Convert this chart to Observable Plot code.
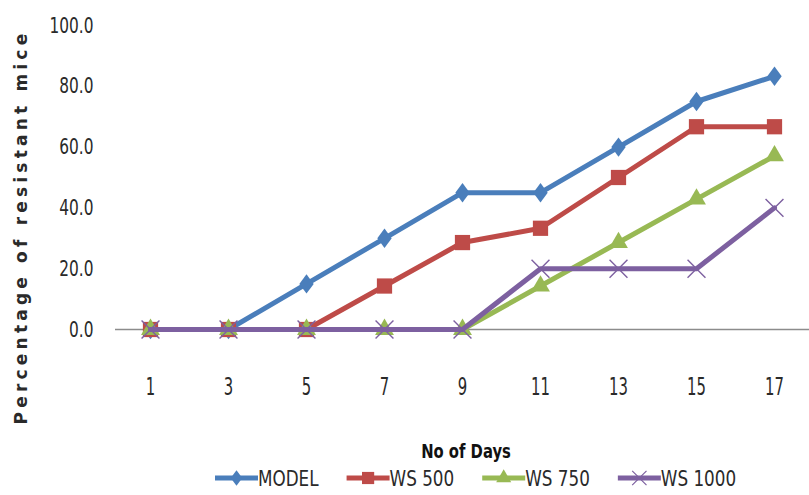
<!DOCTYPE html>
<html>
<head>
<meta charset="utf-8">
<script src="https://cdn.jsdelivr.net/npm/d3@7"></script>
<script src="https://cdn.jsdelivr.net/npm/@observablehq/plot@0.6"></script>
<style>
  html, body { margin: 0; padding: 0; background: #fff; }
  #wrap { position: relative; width: 809px; height: 495px; overflow: hidden; font-family: "DejaVu Sans", sans-serif; }
  #chart svg { display: block; }
  #ytitle { position: absolute; left: 11px; top: 227px; transform: translate(0, -50%) rotate(180deg);
            writing-mode: vertical-rl; font-family: "DejaVu Sans", sans-serif; font-weight: bold;
            font-size: 17px; letter-spacing: 4.2px; color: #2a2a2a; white-space: nowrap; }
  #xtitle { position: absolute; left: 466px; top: 451px; transform: translate(-50%, -50%) scaleX(0.74);
            font-size: 20px; font-weight: bold; color: #111; white-space: nowrap; }
  #legend { position: absolute; left: 0; top: 463px; }
</style>
</head>
<body>
<div id="wrap">
  <div id="chart"></div>
  <div id="ytitle">Percentage of resistant mice</div>
  <div id="xtitle">No of Days</div>
  <svg id="legend" width="809" height="30"></svg>
</div>
<script>
// Days of observation (category axis)
const days = [1, 3, 5, 7, 9, 11, 13, 15, 17];

// Percentage of resistant mice per group
const model  = [0, 0, 15, 30, 45, 45, 60, 75, 83.3];
const ws500  = [0, 0, 0, 14.3, 28.6, 33.3, 50, 66.7, 66.7];
const ws750  = [0, 0, 0, 0, 0, 14.3, 28.6, 42.9, 57.1];
const ws1000 = [0, 0, 0, 0, 0, 20, 20, 20, 40];

const seriesNames = ["MODEL", "WS 500", "WS 750", "WS 1000"];
const yTicks = [0, 20, 40, 60, 80, 100];

// A broader diamond than d3.symbolDiamond
const wideDiamond = {
  draw(context, size) {
    const a = Math.sqrt(size / Math.PI);
    const hy = a * 1.35, hx = a * 1.0;
    context.moveTo(0, -hy);
    context.lineTo(hx, 0);
    context.lineTo(0, hy);
    context.lineTo(-hx, 0);
    context.closePath();
  }
};
const symbols = {diamond: wideDiamond, square: d3.symbolSquare, triangle: d3.symbolTriangle, times: d3.symbolTimes};

const series = [
  {name: seriesNames[0], values: model,  color: "#4A7EBB", symbol: "diamond",  r: 7.2, fill: true},
  {name: seriesNames[1], values: ws500,  color: "#BE4B48", symbol: "square",   r: 8.6, fill: true},
  {name: seriesNames[2], values: ws750,  color: "#98B954", symbol: "triangle", r: 7.0, fill: true},
  {name: seriesNames[3], values: ws1000, color: "#7D60A0", symbol: "times",    r: 8.2, fill: false}
];

const marks = [Plot.ruleY([0], {stroke: "#8c8c8c", strokeWidth: 1.3})];
for (const s of series) {
  const rows = days.map((d, i) => ({day: d, value: s.values[i]}));
  marks.push(Plot.line(rows, {x: "day", y: "value", stroke: s.color, strokeWidth: 5}));
  marks.push(Plot.dot(rows, {
    x: "day", y: "value", symbol: () => symbols[s.symbol], r: s.r,
    fill: s.fill ? s.color : "none",
    stroke: s.color, strokeWidth: s.fill ? 0 : 1.4
  }));
}

const chart = Plot.plot({
  width: 809,
  height: 428,
  marginTop: 25,
  marginBottom: 99,
  marginLeft: 115,
  marginRight: 0,
  style: {fontFamily: "\"DejaVu Sans\", sans-serif", color: "#2a2a2a"},
  x: {type: "point", domain: days, padding: 0.425},
  y: {domain: [0, 100]},
  symbol: {type: "identity"},
  marks: [
    Plot.axisX({tickSize: 0, tickPadding: 48, fontSize: 24, label: null}),
    Plot.axisY({ticks: yTicks, tickFormat: d => d.toFixed(1), tickSize: 0, tickPadding: 22, fontSize: 22, label: null}),
    ...marks
  ]
});
document.getElementById("chart").append(chart);

// Narrow, tall tick numerals
for (const [sel, sx] of [['g[aria-label="x-axis tick label"] text', 0.62], ['g[aria-label="y-axis tick label"] text', 0.7]]) {
  chart.querySelectorAll(sel).forEach(t => {
    t.setAttribute("transform", (t.getAttribute("transform") || "") + ` scale(${sx},1)`);
  });
}

// Legend: line swatch with its marker, then the series name
const legend = d3.select("#legend");
let lx = 215;
const ly = 15, swatchW = 43, textScale = 0.8;
for (const s of series) {
  const g = legend.append("g");
  g.append("line").attr("x1", lx).attr("x2", lx + swatchW).attr("y1", ly).attr("y2", ly)
    .attr("stroke", s.color).attr("stroke-width", 5);
  g.append("path").attr("transform", `translate(${lx + swatchW / 2},${ly})`)
    .attr("d", d3.symbol(symbols[s.symbol], Math.PI * (s.r * 0.8) ** 2)())
    .attr("fill", s.fill ? s.color : "none").attr("stroke", s.color).attr("stroke-width", s.fill ? 0 : 1.2);
  const t = g.append("text")
    .attr("transform", `translate(${lx + swatchW},${ly}) scale(${textScale},1)`)
    .attr("dy", "0.36em").attr("font-size", 21).attr("fill", "#2a2a2a")
    .text(s.name);
  lx += swatchW + t.node().getComputedTextLength() * textScale + 28;
}
</script>
</body>
</html>
